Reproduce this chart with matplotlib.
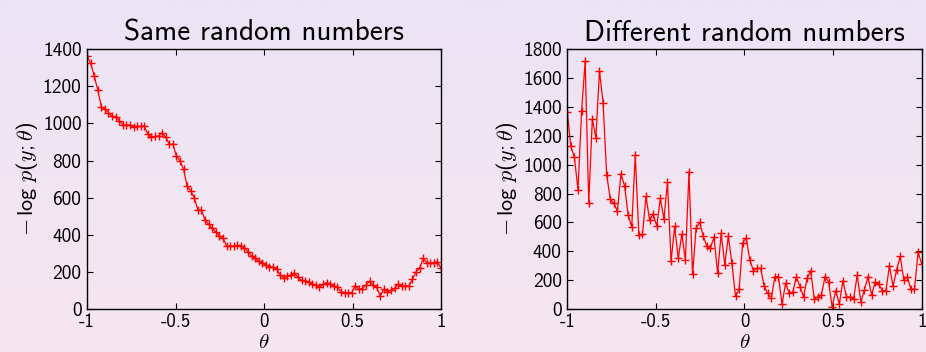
import numpy as np
import matplotlib
matplotlib.use('Agg')
import matplotlib.pyplot as plt

plt.rcParams['font.family'] = ['cmss10', 'DejaVu Sans']
plt.rcParams['mathtext.fontset'] = 'custom'
plt.rcParams['mathtext.rm'] = 'cmss10'
plt.rcParams['mathtext.it'] = 'cmmi10'
plt.rcParams['mathtext.bf'] = 'cmss10'
plt.rcParams['mathtext.fallback'] = 'cm'
plt.rcParams['axes.unicode_minus'] = False

# theta grid: 100 points from -1 to 1
theta = np.linspace(-1, 1, 100)

# -log p(y;theta), same random numbers for every theta
nll_same = [1362, 1326, 1256, 1181, 1090, 1077, 1059, 1038, 1034, 1016,
            992, 992, 992, 980, 984, 984, 987, 941, 926, 930,
            932, 950, 926, 888, 888, 824, 799, 752, 662, 637,
            599, 535, 531, 481, 456, 435, 416, 395, 384, 339,
            339, 339, 343, 341, 330, 309, 287, 273, 258, 248,
            237, 228, 226, 215, 183, 168, 179, 183, 194, 171,
            154, 151, 147, 135, 129, 117, 133, 142, 135, 124,
            117, 93, 88, 88, 88, 126, 106, 110, 129, 149,
            129, 117, 70, 106, 93, 102, 111, 135, 124, 124,
            124, 160, 201, 219, 273, 249, 249, 249, 255, 219]

# -log p(y;theta), fresh random numbers for every theta
nll_diff = [1366, 1128, 1050, 826, 1371, 1717, 736, 1315, 1186, 1650,
            1431, 932, 764, 732, 678, 937, 854, 651, 570, 1066,
            512, 517, 780, 616, 658, 575, 768, 623, 877, 330,
            572, 351, 517, 341, 948, 240, 563, 600, 503, 436,
            425, 498, 249, 524, 307, 503, 316, 88, 136, 460,
            491, 339, 265, 282, 282, 159, 108, 74, 224, 224,
            33, 180, 108, 116, 224, 155, 85, 212, 265, 70,
            83, 97, 224, 190, 14, 127, 34, 195, 83, 83,
            72, 234, 50, 132, 224, 97, 185, 172, 128, 124,
            299, 157, 270, 365, 204, 224, 136, 136, 392, 315]

titles = ['Same random numbers', 'Different random numbers']
xticks = [-1, -0.5, 0, 0.5, 1]
xticklabels = ['-1', '-0.5', '0', '0.5', '1']
yticks_same = list(range(0, 1401, 200))
yticks_diff = list(range(0, 1801, 200))

fig = plt.figure(figsize=(9.26, 3.52), dpi=100)

# lavender to pink background
bg = fig.add_axes([0, 0, 1, 1], zorder=-10)
top = np.array([235, 228, 245]) / 255.0
bottom = np.array([246, 230, 239]) / 255.0
t = np.linspace(0, 1, 256)[:, None]
grad = top[None, :] * (1 - t) + bottom[None, :] * t
bg.imshow(grad[:, None, :], aspect='auto', extent=[0, 1, 0, 1])
bg.axis('off')

ax1 = fig.add_axes([0.0940, 0.1222, 0.3823, 0.7378])
ax2 = fig.add_axes([0.6126, 0.1222, 0.3827, 0.7378])

panels = [(ax1, nll_same, yticks_same), (ax2, nll_diff, yticks_diff)]
for (ax, vals, yt), title in zip(panels, titles):
    ax.set_facecolor('none')
    ax.plot(theta, vals, color='#ff0000', lw=0.9, marker='+', ms=6, mew=1.0)
    ax.set_xlim(-1, 1)
    ax.set_ylim(yt[0], yt[-1])
    ax.set_xticks(xticks)
    ax.set_xticklabels(xticklabels)
    ax.set_yticks(yt)
    ax.set_yticklabels([str(v) for v in yt])
    ax.tick_params(direction='in', top=True, right=True, length=4, width=0.8,
                   labelsize=14, pad=4)
    ax.tick_params(axis='x', pad=3, labelsize=13.5)
    for s in ax.spines.values():
        s.set_linewidth(1.0)
    ax.set_title(title, fontsize=21, pad=6)
    ax.set_xlabel(r'$\theta$', fontsize=15, labelpad=1)
    ax.set_ylabel(r'$-\,\log\,p(y;\theta)$', fontsize=16, labelpad=2)

fig.savefig('out.png', dpi=100)
